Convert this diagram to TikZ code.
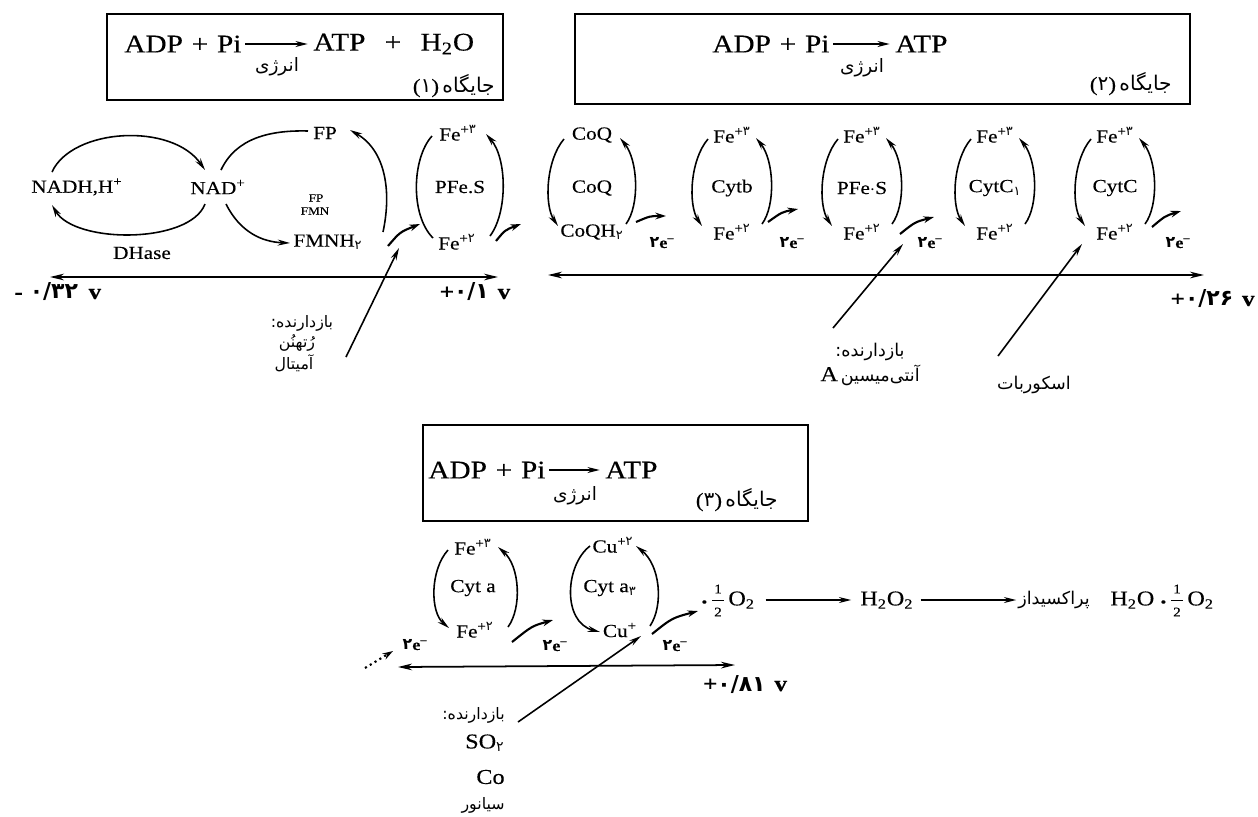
\documentclass[tikz,border=0pt]{standalone}
\usepackage{fontspec}
\setmainfont{Liberation Serif}[FakeStretch=1.15, FakeBold=0.3]
\newfontfamily\fa[Script=Arabic]{DejaVu Sans}
\newfontfamily\fad{DejaVu Sans}
\usetikzlibrary{arrows.meta}
\newcommand\pd[1]{{\fad #1}}
\newcommand\rtl[1]{{\fa #1}}
\tikzset{
  lab/.style={inner sep=0pt, font=\fontsize{10.5}{12}\selectfont},
  smalltxt/.style={inner sep=0pt, font=\fontsize{6.5}{7}\selectfont},
  eqn/.style={inner sep=0pt, font=\fontsize{14.5}{16}\selectfont},
  rxn/.style={inner sep=0pt, font=\fontsize{12}{14}\selectfont},
  fracdig/.style={inner sep=0pt, font=\fontsize{7.5}{8}\selectfont},
  fatxt/.style={inner sep=0pt, font=\fontsize{9}{11}\selectfont},
  faen/.style={inner sep=0pt, font=\fontsize{10.5}{12}\selectfont},
  fasite/.style={inner sep=0pt, font=\fontsize{11.5}{13}\selectfont},
  fabig/.style={inner sep=0pt, font=\fontsize{10}{12}\selectfont},
  pot/.style={inner sep=0pt, font=\fontsize{12.5}{14}\selectfont\bfseries},
  elec/.style={inner sep=0pt, font=\fontsize{9}{11}\selectfont\bfseries},
  arr/.style={line width=0.9pt, -{Stealth[length=7pt,width=3.4pt]}},
  curve/.style={line width=0.9pt},
  fracbar/.style={line width=0.5pt},
  potaxis/.style={line width=1pt, {Stealth[length=8pt,width=3.8pt]}-{Stealth[length=8pt,width=3.8pt]}},
  boxline/.style={line width=1.1pt},
  earr/.style={line width=1.2pt, -{Stealth[length=6pt,width=3.8pt]}},
}
\newcommand\rdx[6]{%
  \node[lab] (#1t) at (#2,135) {#3};
  \node[lab] (#1m) at (#2,188) {#4};
  \node[lab] (#1b) at (#2,232) {#5};
  \coordinate (#1a) at (#2-#6+6,139);
  \coordinate (#1c) at (#2-#6,226);
  \coordinate (#1d) at (#2+#6,224);
  \coordinate (#1e) at (#2+#6-6,138);
  \draw[arr] (#1a) .. controls (#2-#6-12,160) and (#2-#6-14,205) .. (#1c);
  \draw[arr] (#1d) .. controls (#2+#6+14,205) and (#2+#6+12,160) .. (#1e);
}
\begin{document}
\begin{tikzpicture}[x=0.02cm,y=-0.02cm]
\useasboundingbox (0,0) rectangle (1258,816);

% ---------- Box 1
\draw[boxline] (107,14) rectangle (503,100);
\node[eqn,anchor=west] (adp1) at (124,44) {ADP\hspace{5pt}+\hspace{5pt}Pi};
\node[eqn,anchor=west] (atp1) at (313,44) {ATP\hspace{11pt}+\hspace{11pt}H\textsubscript{2}O};
\draw[arr] ([xshift=2pt]adp1.east) -- ([xshift=-3pt]atp1.west);
\node[faen] (en1) at (277,67) {\rtl{انرژی}};
\node[fasite,anchor=east] (site1) at (495,86) {(\pd{۱})\,\rtl{جایگاه}};

% ---------- Box 2
\draw[boxline] (575,14) rectangle (1190,104);
\node[eqn,anchor=west] (adp2) at (712,44) {ADP\hspace{5pt}+\hspace{5pt}Pi};
\node[eqn,anchor=west] (atp2) at (895,44) {ATP};
\draw[arr] ([xshift=2pt]adp2.east) -- ([xshift=-3pt]atp2.west);
\node[faen] (en2) at (862,68) {\rtl{انرژی}};
\node[fasite,anchor=east] (site2) at (1172,84) {(\pd{۲})\,\rtl{جایگاه}};

% ---------- Left chain
\node[lab] (nadh) at (77,187) {NADH,H\textsuperscript{+}};
\node[lab] (nad) at (218,187) {NAD\textsuperscript{+}};
\node[lab] (dhase) at (142,253) {DHase};
\node[lab] (fp) at (325,133) {FP};
\node[smalltxt] (fps) at (316,198) {FP};
\node[smalltxt] (fmn) at (315,211) {FMN};
\node[lab] (fmnh) at (328,242) {FMNH\textsubscript{\pd{۲}}};
\node[lab] (fe3a) at (458,133) {Fe\textsuperscript{+\pd{۳}}};
\node[lab] (pfes1) at (460,187) {PFe.S};
\node[lab] (fe2a) at (457,242) {Fe\textsuperscript{+\pd{۲}}};

\coordinate (l1a) at (52,172); \coordinate (l1b) at (205,170);
\draw[arr] (l1a) .. controls (72,128) and (172,122) .. (l1b);
\coordinate (l1c) at (205,204); \coordinate (l1d) at (52,205);
\draw[arr] (l1c) .. controls (190,244) and (75,244) .. (l1d);
\coordinate (l2a) at (221,170); \coordinate (l2b) at (308,131);
\draw[curve] (l2a) .. controls (236,138) and (270,130) .. (l2b);
\coordinate (l2c) at (226,204); \coordinate (l2d) at (290,243);
\draw[arr] (l2c) .. controls (240,232) and (262,242) .. (l2d);
\coordinate (l3a) at (383,232); \coordinate (l3b) at (350,130);
\draw[arr] (l3a) .. controls (392,190) and (385,150) .. (l3b);
\coordinate (l4a) at (432,136); \coordinate (l4b) at (433,238);
\draw[curve] (l4a) .. controls (412,158) and (410,215) .. (l4b);
\coordinate (l4c) at (490,236); \coordinate (l4d) at (486,134);
\draw[arr] (l4c) .. controls (508,212) and (507,158) .. (l4d);
\coordinate (s1a) at (388,246); \coordinate (s1b) at (420,224);
\draw[earr] (s1a) .. controls (400,232) .. (s1b);
\coordinate (s2a) at (496,241); \coordinate (s2b) at (521,224);
\draw[earr] (s2a) .. controls (505,230) .. (s2b);

\coordinate (ax1l) at (50,277); \coordinate (ax1r) at (498,277);
\draw[potaxis] (ax1l) -- (ax1r);
\node[pot,anchor=west] (v1) at (14,292) {-\hspace{4pt}\pd{۰/۳۲}\hspace{6pt}v};
\node[pot] (v2) at (475,292) {+\pd{۰/۱}\hspace{5pt}v};

\coordinate (i1s) at (346,357); \coordinate (i1e) at (399,248);
\draw[arr] (i1s) -- (i1e);
\node[fatxt] (inh1a) at (302,323) {\rtl{بازدارنده:}};
\node[fatxt] (inh1b) at (297,343) {\rtl{رُتهنُن}};
\node[fatxt] (inh1c) at (294,363) {\rtl{آمیتال}};

% ---------- Right chain
\rdx{q}{592}{CoQ}{CoQ}{CoQH\textsubscript{\pd{۲}}}{34}
\rdx{b}{732}{Fe\textsuperscript{+\pd{۳}}}{Cytb}{Fe\textsuperscript{+\pd{۲}}}{30}
\rdx{p}{862}{Fe\textsuperscript{+\pd{۳}}}{PFe$\cdot$S}{Fe\textsuperscript{+\pd{۲}}}{30}
\rdx{c}{995}{Fe\textsuperscript{+\pd{۳}}}{CytC\textsubscript{\pd{۱}}}{Fe\textsuperscript{+\pd{۲}}}{30}
\rdx{k}{1115}{Fe\textsuperscript{+\pd{۳}}}{CytC}{Fe\textsuperscript{+\pd{۲}}}{30}

\coordinate (e1a) at (636,222); \coordinate (e1b) at (666,216);
\draw[earr] (e1a) .. controls (650,216) .. (e1b);
\node[elec] (e1) at (662,243) {\pd{۲}e\textsuperscript{–}};
\coordinate (e2a) at (768,222); \coordinate (e2b) at (798,209);
\draw[earr] (e2a) .. controls (782,212) .. (e2b);
\node[elec] (e2) at (792,243) {\pd{۲}e\textsuperscript{–}};
\coordinate (e3a) at (900,234); \coordinate (e3b) at (934,217);
\draw[earr] (e3a) .. controls (915,222) .. (e3b);
\node[elec] (e3) at (930,243) {\pd{۲}e\textsuperscript{–}};
\coordinate (e4a) at (1152,227); \coordinate (e4b) at (1181,211);
\draw[earr] (e4a) .. controls (1165,216) .. (e4b);
\node[elec] (e4) at (1178,243) {\pd{۲}e\textsuperscript{–}};

\coordinate (ax2l) at (548,275); \coordinate (ax2r) at (1204,275);
\draw[potaxis] (ax2l) -- (ax2r);
\node[pot,anchor=east] (v3) at (1255,299) {+\pd{۰/۲۶}\hspace{5pt}v};

\coordinate (i2s) at (833,328); \coordinate (i2e) at (903,244);
\draw[arr] (i2s) -- (i2e);
\node[fabig] (inh2a) at (870,352) {\rtl{بازدارنده:}};
\node[fabig] (inh2b) at (870,375) {{\fontsize{12}{14}\selectfont A}\,\rtl{آنتی‌میسین}};
\coordinate (i3s) at (998,356); \coordinate (i3e) at (1082,244);
\draw[arr] (i3s) -- (i3e);
\node[fabig] (asc) at (1034,385) {\rtl{اسکوربات}};

% ---------- Box 3
\draw[boxline] (423,425) rectangle (808,521);
\node[eqn,anchor=west] (adp3) at (428,470) {ADP\hspace{5pt}+\hspace{5pt}Pi};
\node[eqn,anchor=west] (atp3) at (605,470) {ATP};
\draw[arr] ([xshift=2pt]adp3.east) -- ([xshift=-3pt]atp3.west);
\node[faen] (en3) at (575,496) {\rtl{انرژی}};
\node[fasite,anchor=east] (site3) at (778,500) {(\pd{۳})\,\rtl{جایگاه}};

% ---------- Bottom chain
\node[lab] (cat) at (473,547) {Fe\textsuperscript{+\pd{۳}}};
\node[lab] (cam) at (473,588) {Cyt a};
\node[lab] (cab) at (475,630) {Fe\textsuperscript{+\pd{۲}}};
\coordinate (ca1) at (448,550); \coordinate (ca2) at (449,628);
\draw[arr] (ca1) .. controls (430,570) and (430,612) .. (ca2);
\coordinate (ca3) at (508,627); \coordinate (ca4) at (498,547);
\draw[arr] (ca3) .. controls (522,608) and (520,566) .. (ca4);

\node[lab] (cbt) at (613,545) {Cu\textsuperscript{+\pd{۲}}};
\node[lab] (cbm) at (610,588) {Cyt a\textsubscript{\pd{۳}}};
\node[lab] (cbb) at (620,630) {Cu\textsuperscript{+}};
\coordinate (cb1) at (590,546); \coordinate (cb2) at (600,632);
\draw[arr] (cb1) .. controls (565,565) and (562,622) .. (cb2);
\coordinate (cb3) at (650,626); \coordinate (cb4) at (636,546);
\draw[arr] (cb3) .. controls (664,605) and (660,565) .. (cb4);

\coordinate (f1a) at (512,642); \coordinate (f1b) at (553,620);
\draw[earr] (f1a) .. controls (532,626) .. (f1b);
\node[elec] (f1) at (555,646) {\pd{۲}e\textsuperscript{–}};
\coordinate (f2a) at (652,634); \coordinate (f2b) at (698,611);
\draw[earr] (f2a) .. controls (672,618) .. (f2b);
\node[elec] (f2) at (675,646) {\pd{۲}e\textsuperscript{–}};
\coordinate (f0a) at (365,668); \coordinate (f0b) at (393,651);
\draw[earr,dotted] (f0a) -- (f0b);
\node[elec] (f0) at (415,645) {\pd{۲}e\textsuperscript{–}};

% ---------- Reaction line
\node[rxn,anchor=west] (dot1) at (701,602) {\textbf{.}};
\node[fracdig] (num1) at (718,589) {1};
\node[fracdig] (den1) at (718,612) {2};
\draw[fracbar] (712,600) -- (724,600);
\node[rxn,anchor=west] (half1) at (728,600) {O\textsubscript{2}};
\node[rxn,anchor=west] (h2o2) at (860,600) {H\textsubscript{2}O\textsubscript{2}};
\node[fabig,anchor=west] (perox) at (1018,600) {\rtl{پراکسیداز}};
\node[rxn,anchor=west] (prod) at (1110,600) {H\textsubscript{2}O};
\node[rxn,anchor=west] (dot2) at (1160,602) {\textbf{.}};
\node[fracdig] (num2) at (1177,589) {1};
\node[fracdig] (den2) at (1177,612) {2};
\draw[fracbar] (1171,600) -- (1183,600);
\node[rxn,anchor=west] (half2) at (1187,600) {O\textsubscript{2}};
\draw[arr] ([xshift=6pt]half1.east) -- ([xshift=-5pt]h2o2.west);
\draw[arr] ([xshift=4pt]h2o2.east) -- ([xshift=-1pt]perox.west);

\coordinate (ax3l) at (398,667); \coordinate (ax3r) at (735,665);
\draw[potaxis] (ax3l) -- (ax3r);
\node[pot] (v4) at (745,684) {+\pd{۰/۸۱}\hspace{5pt}v};

\coordinate (i4s) at (518,722); \coordinate (i4e) at (641,636);
\draw[arr] (i4s) -- (i4e);
\node[fatxt,anchor=east] (inh3a) at (505,715) {\rtl{بازدارنده:}};
\node[rxn,anchor=east] (inh3b) at (505,743) {SO\textsubscript{\pd{۲}}};
\node[rxn,anchor=east] (inh3c) at (505,777) {Co};
\node[fatxt,anchor=east] (inh3d) at (505,805) {\rtl{سیانور}};
\end{tikzpicture}
\end{document}
